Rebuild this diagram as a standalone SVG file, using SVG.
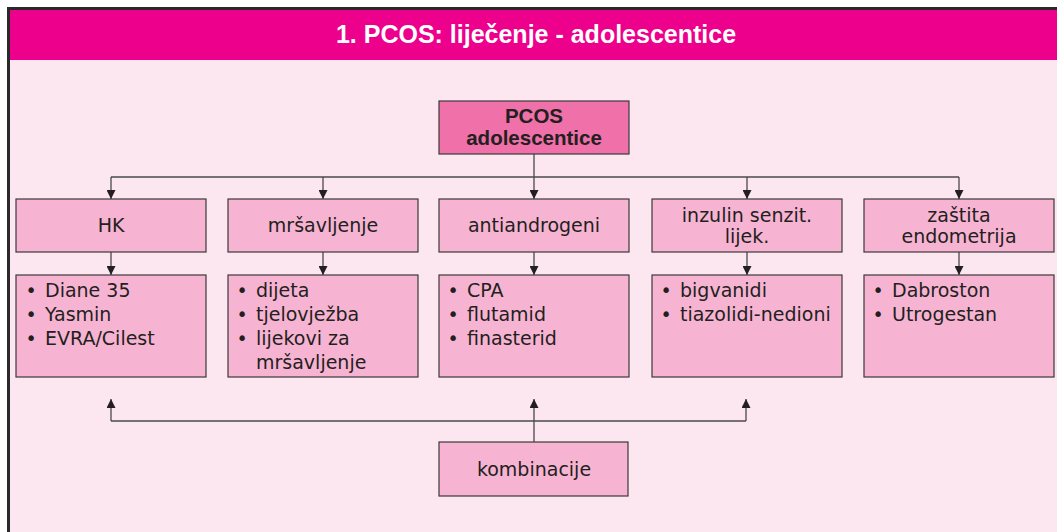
<svg xmlns="http://www.w3.org/2000/svg" width="1057" height="532" viewBox="0 0 1057 532">
<defs>
<style>
.box{fill:#F7B4D2;stroke:#3a3a3a;stroke-width:1.2}
.main{fill:#F070A9;stroke:#3a3a3a;stroke-width:1.2}
.t{font-family:"DejaVu Sans",sans-serif;font-size:19px;fill:#231F20}
.c{text-anchor:middle}
.b{font-family:"Liberation Sans",Arial,sans-serif;font-weight:bold;font-size:20.5px;fill:#231F20;text-anchor:middle}
.ttl{font-family:"Liberation Sans",Arial,sans-serif;font-weight:bold;font-size:25px;fill:#ffffff;text-anchor:middle}
.ln{fill:none;stroke:#4a4a4a;stroke-width:1.3}
.ar{fill:none;stroke:#4a4a4a;stroke-width:1.3;marker-end:url(#ah)}
</style>
<marker id="ah" markerUnits="userSpaceOnUse" markerWidth="9" markerHeight="9" refX="9" refY="4.5" orient="auto">
<path d="M0,0 L9,4.5 L0,9 z" fill="#231F20"/>
</marker>
</defs>
<rect x="0" y="0" width="1057" height="532" fill="#ffffff"/>
<rect x="10" y="60" width="1047" height="472" fill="#FCE6F0"/>
<rect x="10" y="10" width="1047" height="50" fill="#EC008C"/>
<path d="M8.5,532 L8.5,8.5 L1057,8.5" fill="none" stroke="#2a2a2a" stroke-width="3"/>
<text class="ttl" x="536" y="43">1. PCOS: liječenje - adolescentice</text>

<g id="connectors">
<path class="ln" d="M534,154 L534,177"/>
<path class="ln" d="M111,177 L959,177"/>
<path class="ar" d="M111,177 L111,199"/>
<path class="ar" d="M323,177 L323,199"/>
<path class="ar" d="M534,177 L534,199"/>
<path class="ar" d="M747,177 L747,199"/>
<path class="ar" d="M959,177 L959,199"/>
<path class="ar" d="M111,252 L111,275"/>
<path class="ar" d="M323,252 L323,275"/>
<path class="ar" d="M534,252 L534,275"/>
<path class="ar" d="M747,252 L747,275"/>
<path class="ar" d="M959,252 L959,275"/>
<path class="ln" d="M111,421 L746,421"/>
<path class="ar" d="M111,421 L111,399"/>
<path class="ar" d="M534,442 L534,399"/>
<path class="ar" d="M746,421 L746,399"/>
</g>

<g id="pcos">
<rect class="main" x="439" y="101" width="190" height="53"/>
<text class="b" x="534" y="123">PCOS</text>
<text class="b" x="534" y="145">adolescentice</text>
</g>

<g id="hk">
<rect class="box" x="16" y="199" width="190" height="53"/>
<text class="t c" x="111" y="232">HK</text>
</g>
<g id="mrsavljenje">
<rect class="box" x="228" y="199" width="190" height="53"/>
<text class="t c" x="323" y="232">mršavljenje</text>
</g>
<g id="antiandrogeni">
<rect class="box" x="439" y="199" width="190" height="53"/>
<text class="t c" x="534" y="232">antiandrogeni</text>
</g>
<g id="inzulin">
<rect class="box" x="652" y="199" width="190" height="53"/>
<text class="t c" x="747" y="222">inzulin senzit.</text>
<text class="t c" x="747" y="243">lijek.</text>
</g>
<g id="zastita">
<rect class="box" x="864" y="199" width="190" height="53"/>
<text class="t c" x="959" y="222">zaštita</text>
<text class="t c" x="959" y="243">endometrija</text>
</g>

<g id="hk-list">
<rect class="box" x="16" y="275" width="190" height="102"/>
<text class="t c" x="31" y="297">•</text><text class="t" x="45" y="297">Diane 35</text>
<text class="t c" x="31" y="321">•</text><text class="t" x="45" y="321">Yasmin</text>
<text class="t c" x="31" y="345">•</text><text class="t" x="45" y="345">EVRA/Cilest</text>
</g>
<g id="mrsavljenje-list">
<rect class="box" x="228" y="275" width="190" height="102"/>
<text class="t c" x="242" y="297">•</text><text class="t" x="256" y="297">dijeta</text>
<text class="t c" x="242" y="321">•</text><text class="t" x="256" y="321">tjelovježba</text>
<text class="t c" x="242" y="345">•</text><text class="t" x="256" y="345">lijekovi za</text>
<text class="t" x="256" y="369">mršavljenje</text>
</g>
<g id="antiandrogeni-list">
<rect class="box" x="439" y="275" width="190" height="102"/>
<text class="t c" x="453" y="297">•</text><text class="t" x="467" y="297">CPA</text>
<text class="t c" x="453" y="321">•</text><text class="t" x="467" y="321">flutamid</text>
<text class="t c" x="453" y="345">•</text><text class="t" x="467" y="345">finasterid</text>
</g>
<g id="inzulin-list">
<rect class="box" x="652" y="275" width="190" height="102"/>
<text class="t c" x="666" y="297">•</text><text class="t" x="680" y="297">bigvanidi</text>
<text class="t c" x="666" y="321">•</text><text class="t" x="680" y="321">tiazolidi-nedioni</text>
</g>
<g id="zastita-list">
<rect class="box" x="864" y="275" width="190" height="102"/>
<text class="t c" x="878" y="297">•</text><text class="t" x="892" y="297">Dabroston</text>
<text class="t c" x="878" y="321">•</text><text class="t" x="892" y="321">Utrogestan</text>
</g>

<g id="kombinacije">
<rect class="box" x="439" y="442" width="189" height="54"/>
<text class="t c" x="534" y="476">kombinacije</text>
</g>
</svg>
